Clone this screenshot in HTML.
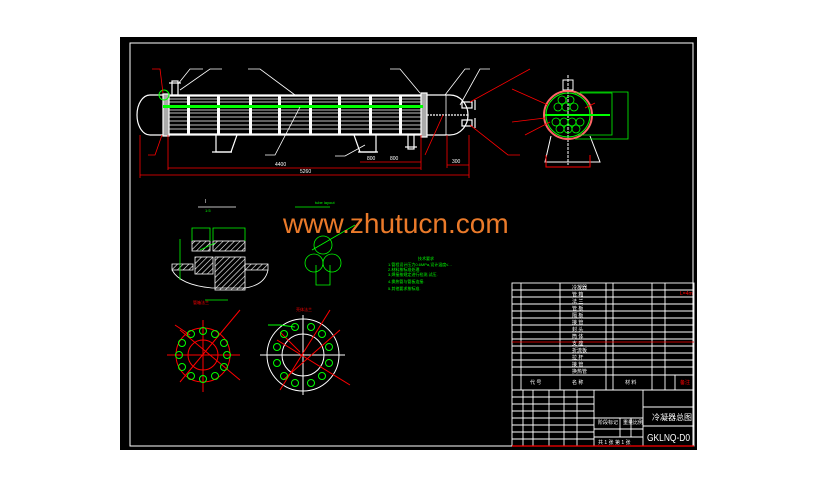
<!DOCTYPE html>
<html><head><meta charset="utf-8"><style>
html,body{margin:0;padding:0;background:#fff;}
svg{display:block;}
text{font-family:"Liberation Sans","Noto Sans CJK SC",sans-serif;}
</style></head><body>
<svg width="818" height="488" viewBox="0 0 818 488" xmlns="http://www.w3.org/2000/svg">
<defs>
<pattern id="h" width="4" height="4" patternUnits="userSpaceOnUse" patternTransform="rotate(45)"><line x1="0" y1="0" x2="0" y2="4" stroke="#fff" stroke-width="1.2"/></pattern>
</defs>
<rect x="120" y="37" width="577" height="413" fill="#000"/>
<rect x="130" y="43" width="563" height="403" fill="none" stroke="#fff" stroke-width="1"/>

<!-- MAIN VESSEL -->
<g stroke="#fff" fill="none" stroke-width="1.2">
<path d="M163,95 L150,95 A13,20 0 0 0 150,135 L163,135"/>
<line x1="163" y1="95" x2="421" y2="95"/><line x1="163" y1="135" x2="421" y2="135"/>
<line x1="163" y1="96" x2="421" y2="96"/><line x1="163" y1="134" x2="421" y2="134"/>
<rect x="163" y="94" width="6" height="42" fill="#aaa" stroke="#fff"/>
<rect x="421" y="93" width="6" height="44" fill="#aaa" stroke="#fff"/>
<path d="M427,95 L450,95 A18,20 0 0 1 450,135 L427,135"/>
<line x1="427" y1="115" x2="468" y2="115" stroke-dasharray="2,1"/>
<line x1="446" y1="95" x2="446" y2="135" stroke-width="0.8"/>
<rect x="462" y="102" width="10" height="6"/><rect x="462" y="120" width="10" height="6"/>
<line x1="475" y1="100" x2="475" y2="110"/><line x1="475" y1="118" x2="475" y2="128"/>
<rect x="172" y="81" width="6" height="14"/><line x1="169" y1="83" x2="181" y2="83"/>
<rect x="408" y="135" width="6" height="14"/><line x1="405" y1="147" x2="417" y2="147"/>
<g stroke-width="0.8">
<line x1="169" y1="99" x2="421" y2="99"/><line x1="169" y1="102" x2="421" y2="102"/>
<line x1="169" y1="110" x2="421" y2="110"/><line x1="169" y1="113" x2="421" y2="113"/>
<line x1="169" y1="117" x2="421" y2="117"/><line x1="169" y1="121" x2="421" y2="121"/>
<line x1="169" y1="125" x2="421" y2="125"/><line x1="169" y1="129" x2="421" y2="129"/>
</g>
<path d="M216,135 L216,152 L231,152 L237,135"/><path d="M354,135 L360,152 L376,152 L376,135"/>
<line x1="212" y1="152" x2="232" y2="152"/><line x1="358" y1="152" x2="378" y2="152"/>
</g>
<g fill="#fff">
<rect x="187" y="96" width="3" height="38"/><rect x="217" y="96" width="3" height="38"/>
<rect x="249" y="96" width="3" height="38"/><rect x="278" y="96" width="3" height="38"/>
<rect x="309" y="96" width="3" height="38"/><rect x="338" y="96" width="3" height="38"/>
<rect x="369" y="96" width="3" height="38"/><rect x="399" y="96" width="3" height="38"/>
</g>
<rect x="163" y="105" width="260" height="3" fill="#0f0"/>
<circle cx="164" cy="95" r="5" fill="none" stroke="#0f0"/>
<g stroke="#fff" stroke-width="0.8" fill="none">
<polyline points="178,84 190,69 203,69"/><polyline points="180,90 210,69 222,69"/>
<polyline points="295,95 260,69 248,69"/><polyline points="300,107 275,155 265,155"/>
<polyline points="365,145 345,156 335,156"/><polyline points="420,93 400,69 390,69"/>
<polyline points="445,95 465,69 470,69"/><polyline points="460,105 480,69 490,69"/>
</g>
<g stroke="#f00" stroke-width="0.8" fill="none">
<polyline points="163,93 160,69 152,69"/><polyline points="162,135 155,155 148,155"/>
<polyline points="470,102 530,69"/><polyline points="470,125 508,155 520,155"/>
<polyline points="425,155 443,115"/>
<line x1="140" y1="175" x2="469" y2="175"/><line x1="168" y1="168" x2="421" y2="168"/>
<line x1="140" y1="135" x2="140" y2="178"/><line x1="469" y1="135" x2="469" y2="178"/>
<line x1="168" y1="135" x2="168" y2="170"/><line x1="421" y1="135" x2="421" y2="170"/>
<line x1="360" y1="162" x2="421" y2="162"/><line x1="447" y1="165" x2="469" y2="165"/>
<line x1="447" y1="135" x2="447" y2="168"/>
</g>
<g fill="#fff" font-size="5">
<text x="275" y="166">4400</text><text x="300" y="173">5260</text><text x="367" y="160">800</text>
<text x="390" y="160">800</text><text x="452" y="163">300</text>
</g>

<!-- END VIEW -->
<g fill="none">
<path d="M551,136 L545,162 L600,162 L590,136" stroke="#fff"/>
<line x1="568" y1="75" x2="568" y2="165" stroke="#fff" stroke-dasharray="3,1"/>
<rect x="563" y="80" width="10" height="10" stroke="#fff"/>
<circle cx="568" cy="115" r="24" stroke="#f66" stroke-width="2"/>
<circle cx="568" cy="115" r="22" stroke="#0f0"/>
<line x1="545" y1="115" x2="610" y2="115" stroke="#0f0" stroke-width="2"/>
<g stroke="#0f0" stroke-width="0.8">
<circle cx="562" cy="100" r="4"/><circle cx="570" cy="100" r="4"/><circle cx="558" cy="107" r="4"/><circle cx="566" cy="107" r="4"/><circle cx="574" cy="107" r="4"/>
<circle cx="556" cy="122" r="4"/><circle cx="564" cy="122" r="4"/><circle cx="572" cy="122" r="4"/><circle cx="580" cy="122" r="4"/>
<circle cx="560" cy="129" r="4"/><circle cx="568" cy="129" r="4"/><circle cx="576" cy="129" r="4"/>
<polyline points="575,93 612,93 612,135 578,135"/><polyline points="580,92 628,92 628,139 575,139"/>
</g>
<polyline points="546,155 546,167 590,167 590,155" stroke="#f00"/>
<g stroke="#f00" stroke-width="0.8"><line x1="512" y1="89" x2="548" y2="105"/><line x1="512" y1="122" x2="545" y2="118"/><line x1="525" y1="135" x2="550" y2="122"/><line x1="595" y1="103" x2="585" y2="108"/></g>
</g>

<!-- DETAIL SECTION -->
<g stroke="#fff" fill="none" stroke-width="0.8">
<text x="205" y="203" fill="#fff" stroke="none" font-size="5">I</text>
<line x1="198" y1="207" x2="236" y2="207"/>
<rect x="192" y="241" width="18" height="10" fill="url(#h)"/><rect x="213" y="241" width="32" height="10" fill="url(#h)"/>
<rect x="195" y="257" width="18" height="17" fill="url(#h)"/><rect x="215" y="257" width="30" height="33" fill="url(#h)"/>
<path d="M172,264 L193,264 L193,270 L172,270 Z" fill="url(#h)"/><path d="M245,264 L268,264 L268,270 L245,270 Z" fill="url(#h)"/>
<path d="M172,270 Q180,285 212,288 L245,288 Q265,285 268,270"/>
</g>
<g stroke="#0f0" fill="none" stroke-width="0.8">
<polyline points="192,241 192,228 210,228 210,241"/><polyline points="213,241 213,228 245,228 245,241"/>
<polyline points="180,239 180,280"/><line x1="200" y1="250" x2="215" y2="243"/><line x1="205" y1="300" x2="228" y2="300"/>
<text x="205" y="212" fill="#0f0" stroke="none" font-size="4">1:5</text>
<line x1="295" y1="207" x2="330" y2="207"/>
<circle cx="323" cy="245" r="9"/><circle cx="314" cy="263" r="9"/><circle cx="332" cy="263" r="9"/>
<line x1="312" y1="250" x2="355" y2="225"/><polyline points="316,265 316,285 330,285 330,265"/>
</g>
<text x="315" y="204" fill="#0f0" font-size="4">tube layout</text>
<g fill="#0f0" font-size="4"><text x="418" y="260">技术要求</text>
<text x="388" y="266">1.管程设计压力0.6MPa,设计温度≤ ..</text><text x="388" y="271">2.材料按标准处理.</text>
<text x="388" y="276">3.焊接按规定进行检测,试压.</text><text x="388" y="283">4.换热管与管板连接.</text><text x="388" y="290">5.其他要求按标准.</text></g>

<!-- FLANGES -->
<g fill="none">
<g stroke="#f00"><circle cx="203" cy="355" r="27"/><circle cx="203" cy="355" r="15"/>
<line x1="167" y1="355" x2="240" y2="355"/><line x1="203" y1="320" x2="203" y2="392"/>
<line x1="180" y1="382" x2="240" y2="310"/><line x1="180" y1="330" x2="240" y2="380"/><line x1="175" y1="325" x2="190" y2="335"/></g>
<g stroke="#0f0"><circle cx="203" cy="331" r="3.5"/><circle cx="215" cy="334" r="3.5"/><circle cx="224" cy="343" r="3.5"/><circle cx="227" cy="355" r="3.5"/><circle cx="224" cy="367" r="3.5"/><circle cx="215" cy="376" r="3.5"/><circle cx="203" cy="379" r="3.5"/><circle cx="191" cy="376" r="3.5"/><circle cx="182" cy="367" r="3.5"/><circle cx="179" cy="355" r="3.5"/><circle cx="182" cy="343" r="3.5"/><circle cx="191" cy="334" r="3.5"/></g>
<g stroke="#fff"><circle cx="303" cy="355" r="36"/><circle cx="303" cy="355" r="21"/><line x1="260" y1="355" x2="345" y2="355"/><line x1="303" y1="315" x2="303" y2="395"/></g>
<g stroke="#f00"><line x1="280" y1="390" x2="330" y2="310"/><line x1="277" y1="340" x2="350" y2="385"/><line x1="283" y1="380" x2="340" y2="330"/><line x1="280" y1="332" x2="300" y2="352"/></g>
<g stroke="#0f0"><circle cx="295" cy="327" r="3.5"/><circle cx="311" cy="327" r="3.5"/><circle cx="322" cy="334" r="3.5"/><circle cx="329" cy="347" r="3.5"/><circle cx="329" cy="363" r="3.5"/><circle cx="322" cy="376" r="3.5"/><circle cx="311" cy="383" r="3.5"/><circle cx="295" cy="383" r="3.5"/><circle cx="284" cy="376" r="3.5"/><circle cx="277" cy="363" r="3.5"/><circle cx="277" cy="347" r="3.5"/><circle cx="284" cy="334" r="3.5"/>
<polyline points="268,325 280,325 295,327"/></g>
</g>
<g fill="#f00" font-size="4"><text x="193" y="304">管箱法兰</text><text x="296" y="311">壳体法兰</text></g>

<!-- WATERMARK -->
<text x="283" y="233" fill="#ea7a2a" font-family="Liberation Mono,monospace" font-size="28">www.zhutucn.com</text>

<!-- TITLE BLOCK -->
<g stroke="#fff" fill="none" stroke-width="0.9">
<rect x="512" y="283" width="182" height="163"/>
<g>
<line x1="512" y1="290" x2="694" y2="290"/><line x1="512" y1="297" x2="694" y2="297"/><line x1="512" y1="304" x2="694" y2="304"/><line x1="512" y1="311" x2="694" y2="311"/><line x1="512" y1="318" x2="694" y2="318"/><line x1="512" y1="325" x2="694" y2="325"/><line x1="512" y1="332" x2="694" y2="332"/><line x1="512" y1="339" x2="694" y2="339"/><line x1="512" y1="346" x2="694" y2="346"/><line x1="512" y1="353" x2="694" y2="353"/><line x1="512" y1="360" x2="694" y2="360"/><line x1="512" y1="367" x2="694" y2="367"/><line x1="512" y1="375" x2="694" y2="375"/><line x1="512" y1="390" x2="694" y2="390"/>
<line x1="521" y1="283" x2="521" y2="390"/><line x1="560" y1="283" x2="560" y2="390"/><line x1="606" y1="283" x2="606" y2="390"/><line x1="613" y1="283" x2="613" y2="390"/><line x1="652" y1="283" x2="652" y2="390"/><line x1="665" y1="283" x2="665" y2="390"/><line x1="675" y1="375" x2="675" y2="390"/>
</g>
<line x1="512" y1="397" x2="594" y2="397"/><line x1="512" y1="404" x2="594" y2="404"/><line x1="512" y1="411" x2="594" y2="411"/><line x1="512" y1="418" x2="594" y2="418"/><line x1="512" y1="425" x2="594" y2="425"/><line x1="512" y1="432" x2="594" y2="432"/><line x1="512" y1="439" x2="594" y2="439"/>
<line x1="523" y1="390" x2="523" y2="446"/><line x1="533" y1="390" x2="533" y2="446"/><line x1="549" y1="390" x2="549" y2="446"/><line x1="564" y1="390" x2="564" y2="446"/><line x1="577" y1="390" x2="577" y2="446"/>
<line x1="594" y1="390" x2="594" y2="446"/><line x1="643" y1="390" x2="643" y2="446"/>
<line x1="594" y1="418" x2="643" y2="418"/><line x1="594" y1="429" x2="643" y2="429"/><line x1="594" y1="437" x2="643" y2="437"/>
<line x1="620" y1="418" x2="620" y2="437"/><line x1="631" y1="418" x2="631" y2="437"/>
<line x1="643" y1="407" x2="694" y2="407"/><line x1="643" y1="426" x2="694" y2="426"/>
</g>
<line x1="512" y1="342" x2="694" y2="342" stroke="#f00" stroke-width="0.8"/>
<line x1="512" y1="446" x2="694" y2="446" stroke="#f00" stroke-width="1.2"/>
<g fill="#fff" font-size="5">
<text x="572" y="289">冷凝器</text><text x="572" y="296">管 箱</text><text x="572" y="303">法 兰</text><text x="572" y="310">管 板</text><text x="572" y="317">隔 板</text><text x="572" y="324">接 管</text><text x="572" y="331">封 头</text><text x="572" y="338">筒 体</text><text x="572" y="345">支 座</text><text x="572" y="352">折流板</text><text x="572" y="359">拉 杆</text><text x="572" y="366">接 管</text><text x="572" y="373">换热管</text>
<text x="530" y="384">代 号</text><text x="572" y="384">名 称</text><text x="625" y="384">材 料</text>
<text x="598" y="424">阶段标记</text><text x="623" y="424">重量</text><text x="633" y="424">比例</text><text x="598" y="444">共 1 张 第 1 张</text>
</g>
<text x="652" y="420" fill="#fff" font-size="8">冷凝器总图</text>
<text x="647" y="441" fill="#fff" font-size="10" textLength="43" lengthAdjust="spacingAndGlyphs">GKLNQ-D0</text>
<text x="680" y="295" fill="#f00" font-size="5">L=4m</text><text x="680" y="384" fill="#f00" font-size="5">备注</text>
</svg>
</body></html>
